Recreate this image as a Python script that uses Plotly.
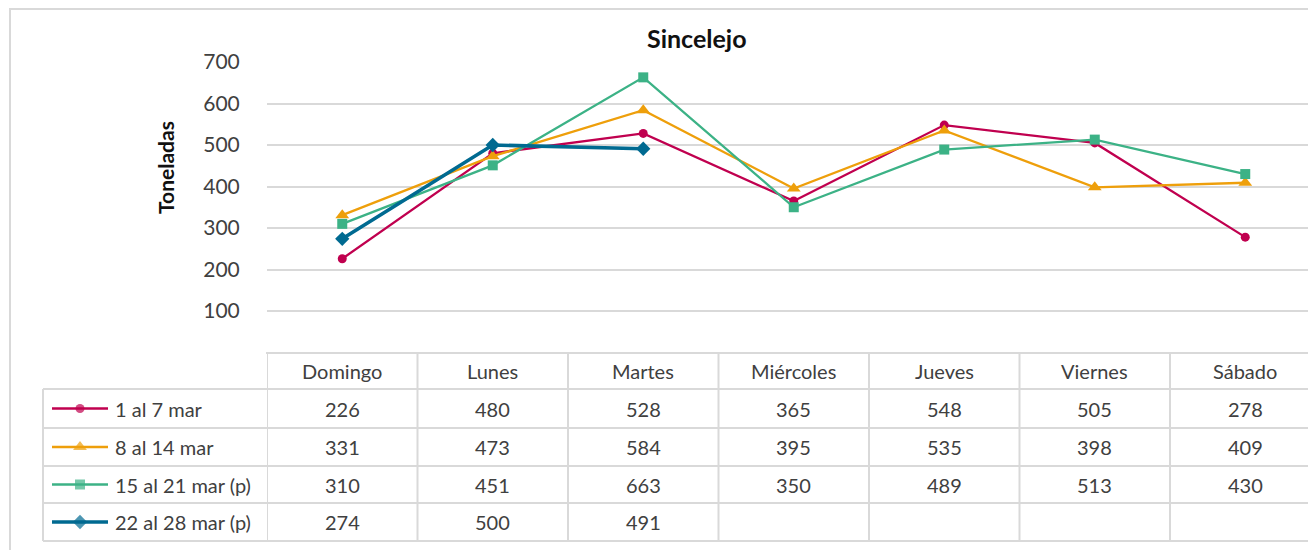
import plotly.graph_objects as go

W, H = 1316, 550
OFF = 8  # page body margin of the rendered html

categories = ["Domingo", "Lunes", "Martes", "Miércoles", "Jueves", "Viernes", "Sábado"]
series_names = ["1 al 7 mar", "8 al 14 mar", "15 al 21 mar (p)", "22 al 28 mar (p)"]
s1 = [226, 480, 528, 365, 548, 505, 278]
s2 = [331, 473, 584, 395, 535, 398, 409]
s3 = [310, 451, 663, 350, 489, 513, 430]
s4 = [274, 500, 491, None, None, None, None]
y_ticks = [100, 200, 300, 400, 500, 600, 700]

series_values = [s1, s2, s3, s4]
colors = ["#C0004F", "#EE9F0B", "#3CB286", "#006A91"]
symbols = ["circle", "triangle-up", "square", "diamond"]
msizes = [9, 12, 10, 11]
lwidths = [2.3, 2.3, 2.3, 3.6]

FONT = "Lato"
GRID = "#D9D9D9"
TXT = "#404040"


def px(x):
    return (x - OFF) / W


def py(y):
    return 1 - (y - OFF) / H


fig = go.Figure()

xidx = list(range(len(categories)))
for name, vals, c, sym, ms, lw in zip(series_names, series_values, colors, symbols, msizes, lwidths):
    fig.add_trace(go.Scatter(
        x=xidx, y=vals, mode="lines+markers", name=name,
        line=dict(color=c, width=lw),
        marker=dict(symbol=sym, size=ms, color=c, line=dict(width=0)),
        cliponaxis=False, showlegend=False, connectgaps=False,
    ))

# legend samples inside the table (page-pixel helper axes)
row_bounds = [389, 428, 466, 503, 541]
for i, (name, c, sym, ms, lw) in enumerate(zip(series_names, colors, symbols, msizes, lwidths)):
    yc = (row_bounds[i] + row_bounds[i + 1]) / 2
    fig.add_trace(go.Scatter(
        x=[52, 80, 108], y=[yc, yc, yc], mode="lines+markers",
        line=dict(color=c, width=lw),
        marker=dict(symbol=sym, size=[0, ms, 0], color=c, line=dict(width=0)),
        xaxis="x2", yaxis="y2", showlegend=False, hoverinfo="skip", cliponaxis=False,
    ))

shapes = []
# outer chart border
shapes.append(dict(type="line", xref="paper", yref="paper", x0=px(10), x1=px(10), y0=py(8), y1=py(560),
                   line=dict(color=GRID, width=2)))
shapes.append(dict(type="line", xref="paper", yref="paper", x0=px(10), x1=px(1330), y0=py(9), y1=py(9),
                   line=dict(color=GRID, width=2)))

# table horizontal lines
shapes.append(dict(type="line", xref="paper", yref="paper", x0=px(266), x1=px(1330), y0=py(353), y1=py(353),
                   line=dict(color=GRID, width=2)))
for yb in row_bounds:
    shapes.append(dict(type="line", xref="paper", yref="paper", x0=px(43), x1=px(1330), y0=py(yb), y1=py(yb),
                       line=dict(color=GRID, width=2)))
# table vertical lines
shapes.append(dict(type="line", xref="paper", yref="paper", x0=px(43), x1=px(43), y0=py(389), y1=py(541),
                   line=dict(color=GRID, width=2)))
for k in range(len(categories)):
    xv = k - 0.5
    shapes.append(dict(type="line", xref="x", yref="paper", x0=xv, x1=xv, y0=py(353), y1=py(541),
                       line=dict(color=GRID, width=2)))

annotations = []
annotations.append(dict(text="<b>Sincelejo</b>", xref="paper", yref="paper", x=px(697), y=py(38),
                        xanchor="center", yanchor="middle",
                        showarrow=False, font=dict(family=FONT, size=25, color="#111111")))
annotations.append(dict(text="<b>Toneladas</b>", xref="paper", yref="paper", x=px(165), y=py(168),
                        xanchor="center", yanchor="middle",
                        showarrow=False, textangle=-90, font=dict(family=FONT, size=21, color="#111111")))
# header
for k, cat in enumerate(categories):
    annotations.append(dict(text=cat, xref="x", yref="paper", x=k, y=py(371), showarrow=False,
                            xanchor="center", yanchor="middle",
                            font=dict(family=FONT, size=20, color=TXT)))
# rows
for i, (name, vals) in enumerate(zip(series_names, series_values)):
    yc = (row_bounds[i] + row_bounds[i + 1]) / 2
    annotations.append(dict(text=name, xref="paper", yref="paper", x=px(113), y=py(yc),
                            xanchor="left", yanchor="middle",
                            showarrow=False, font=dict(family=FONT, size=20, color=TXT)))
    for k, v in enumerate(vals):
        if v is None:
            continue
        annotations.append(dict(text=str(v), xref="x", yref="paper", x=k, y=py(yc), showarrow=False,
                                xanchor="center", yanchor="middle",
                                font=dict(family=FONT, size=20, color=TXT)))

x_dom0 = px(267)
x_span_units = (W - (267 - OFF)) / 150.5

fig.update_layout(
    template="none",
    width=W, height=H,
    margin=dict(l=0, r=0, t=0, b=0, pad=0),
    paper_bgcolor="white", plot_bgcolor="rgba(0,0,0,0)",
    font=dict(family=FONT, color=TXT),
    showlegend=False,
    xaxis=dict(domain=[x_dom0, 1], range=[-0.5, -0.5 + x_span_units], showticklabels=False, showgrid=False,
               zeroline=False, showline=False, ticks="", automargin=False, fixedrange=True),
    yaxis=dict(domain=[py(352.5), py(62)], range=[0, 700], tickvals=y_ticks,
               ticktext=[str(t) for t in y_ticks], showgrid=True, gridcolor=GRID, gridwidth=2,
               zeroline=False, showline=False, ticks="outside", ticklen=22,
               tickcolor="rgba(0,0,0,0)", automargin=False,
               tickfont=dict(family=FONT, size=21, color=TXT)),
    xaxis2=dict(domain=[0, 1], range=[OFF, W + OFF], visible=False, anchor="y2", automargin=False),
    yaxis2=dict(domain=[0, 1], range=[H + OFF, OFF], visible=False, anchor="x2", automargin=False),
    shapes=shapes,
    annotations=annotations,
)

fig.write_html("out.html")
